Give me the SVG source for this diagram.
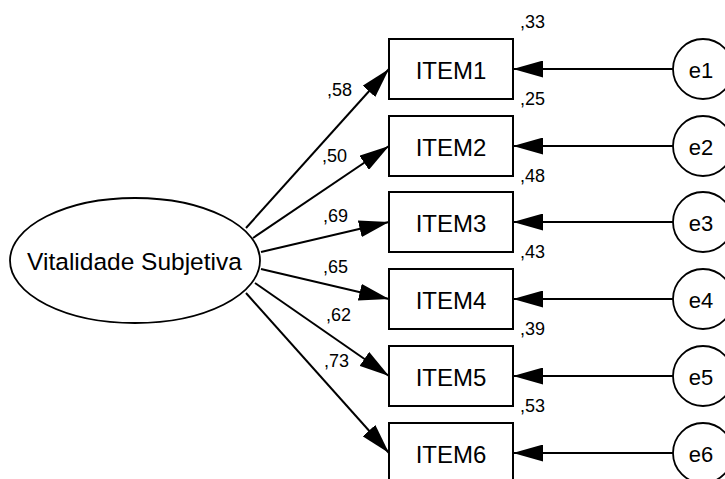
<svg xmlns="http://www.w3.org/2000/svg" width="725" height="479" viewBox="0 0 725 479">
<style>
.box{fill:#fff;stroke:#000;stroke-width:2}
.circ{fill:#fff;stroke:#000;stroke-width:1.8}
.t{font-family:"Liberation Sans",Arial,sans-serif;fill:#000}
.item{font-size:24px;text-anchor:middle}
.lat{font-size:24.5px;text-anchor:middle}
.err{font-size:22px;text-anchor:middle}
.num{font-size:18px}
.arr{stroke:#000;stroke-width:2;fill:none;marker-end:url(#ah)}
</style>
<defs>
<marker id="ah" viewBox="0 0 30 17" refX="30" refY="8.5" markerWidth="30" markerHeight="17" markerUnits="userSpaceOnUse" orient="auto">
<path d="M0,0 L30,8.5 L0,17 z" fill="#000"/>
</marker>
</defs>
<rect width="725" height="479" fill="#fff"/>
<g id="connectors">
<line class="arr" x1="246" y1="228" x2="389" y2="69"/>
<line class="arr" x1="253" y1="238" x2="389" y2="146"/>
<line class="arr" x1="261" y1="252" x2="389" y2="222"/>
<line class="arr" x1="261" y1="269" x2="389" y2="299"/>
<line class="arr" x1="255" y1="283" x2="389" y2="376"/>
<line class="arr" x1="246" y1="293" x2="389" y2="453"/>
<line class="arr" x1="673" y1="69" x2="513" y2="69"/>
<line class="arr" x1="673" y1="146" x2="513" y2="146"/>
<line class="arr" x1="673" y1="222" x2="513" y2="222"/>
<line class="arr" x1="673" y1="299" x2="513" y2="299"/>
<line class="arr" x1="673" y1="376" x2="513" y2="376"/>
<line class="arr" x1="673" y1="453" x2="513" y2="453"/>
</g>
<g id="labels">
<text class="t num" x="327" y="96">,58</text>
<text class="t num" x="322" y="162">,50</text>
<text class="t num" x="323" y="222">,69</text>
<text class="t num" x="323" y="273">,65</text>
<text class="t num" x="326" y="321">,62</text>
<text class="t num" x="324" y="367">,73</text>
</g>
<g id="latent">
<ellipse class="circ" cx="135" cy="260.5" rx="125" ry="62.5"/>
<text class="t lat" x="134.5" y="269.5">Vitalidade Subjetiva</text>
</g>
<g id="item1"><rect class="box" x="389" y="39" width="124" height="60"/><text class="t item" x="451" y="78.5">ITEM1</text><text class="t num" x="520" y="28">,33</text></g>
<g id="item2"><rect class="box" x="389" y="116" width="124" height="60"/><text class="t item" x="451" y="155.5">ITEM2</text><text class="t num" x="520" y="105">,25</text></g>
<g id="item3"><rect class="box" x="389" y="192" width="124" height="60"/><text class="t item" x="451" y="231.5">ITEM3</text><text class="t num" x="520" y="182">,48</text></g>
<g id="item4"><rect class="box" x="389" y="269" width="124" height="60"/><text class="t item" x="451" y="308.5">ITEM4</text><text class="t num" x="520" y="258">,43</text></g>
<g id="item5"><rect class="box" x="389" y="346" width="124" height="60"/><text class="t item" x="451" y="385.5">ITEM5</text><text class="t num" x="520" y="335">,39</text></g>
<g id="item6"><rect class="box" x="389" y="423" width="124" height="60"/><text class="t item" x="451" y="462.5">ITEM6</text><text class="t num" x="520" y="412">,53</text></g>
<g id="e1"><circle class="circ" cx="703" cy="69" r="30"/><text class="t err" x="701" y="78">e1</text></g>
<g id="e2"><circle class="circ" cx="703" cy="146" r="30"/><text class="t err" x="701" y="155">e2</text></g>
<g id="e3"><circle class="circ" cx="703" cy="222" r="30"/><text class="t err" x="701" y="231">e3</text></g>
<g id="e4"><circle class="circ" cx="703" cy="299" r="30"/><text class="t err" x="701" y="308">e4</text></g>
<g id="e5"><circle class="circ" cx="703" cy="376" r="30"/><text class="t err" x="701" y="385">e5</text></g>
<g id="e6"><circle class="circ" cx="703" cy="453" r="30"/><text class="t err" x="701" y="462">e6</text></g>
</svg>
